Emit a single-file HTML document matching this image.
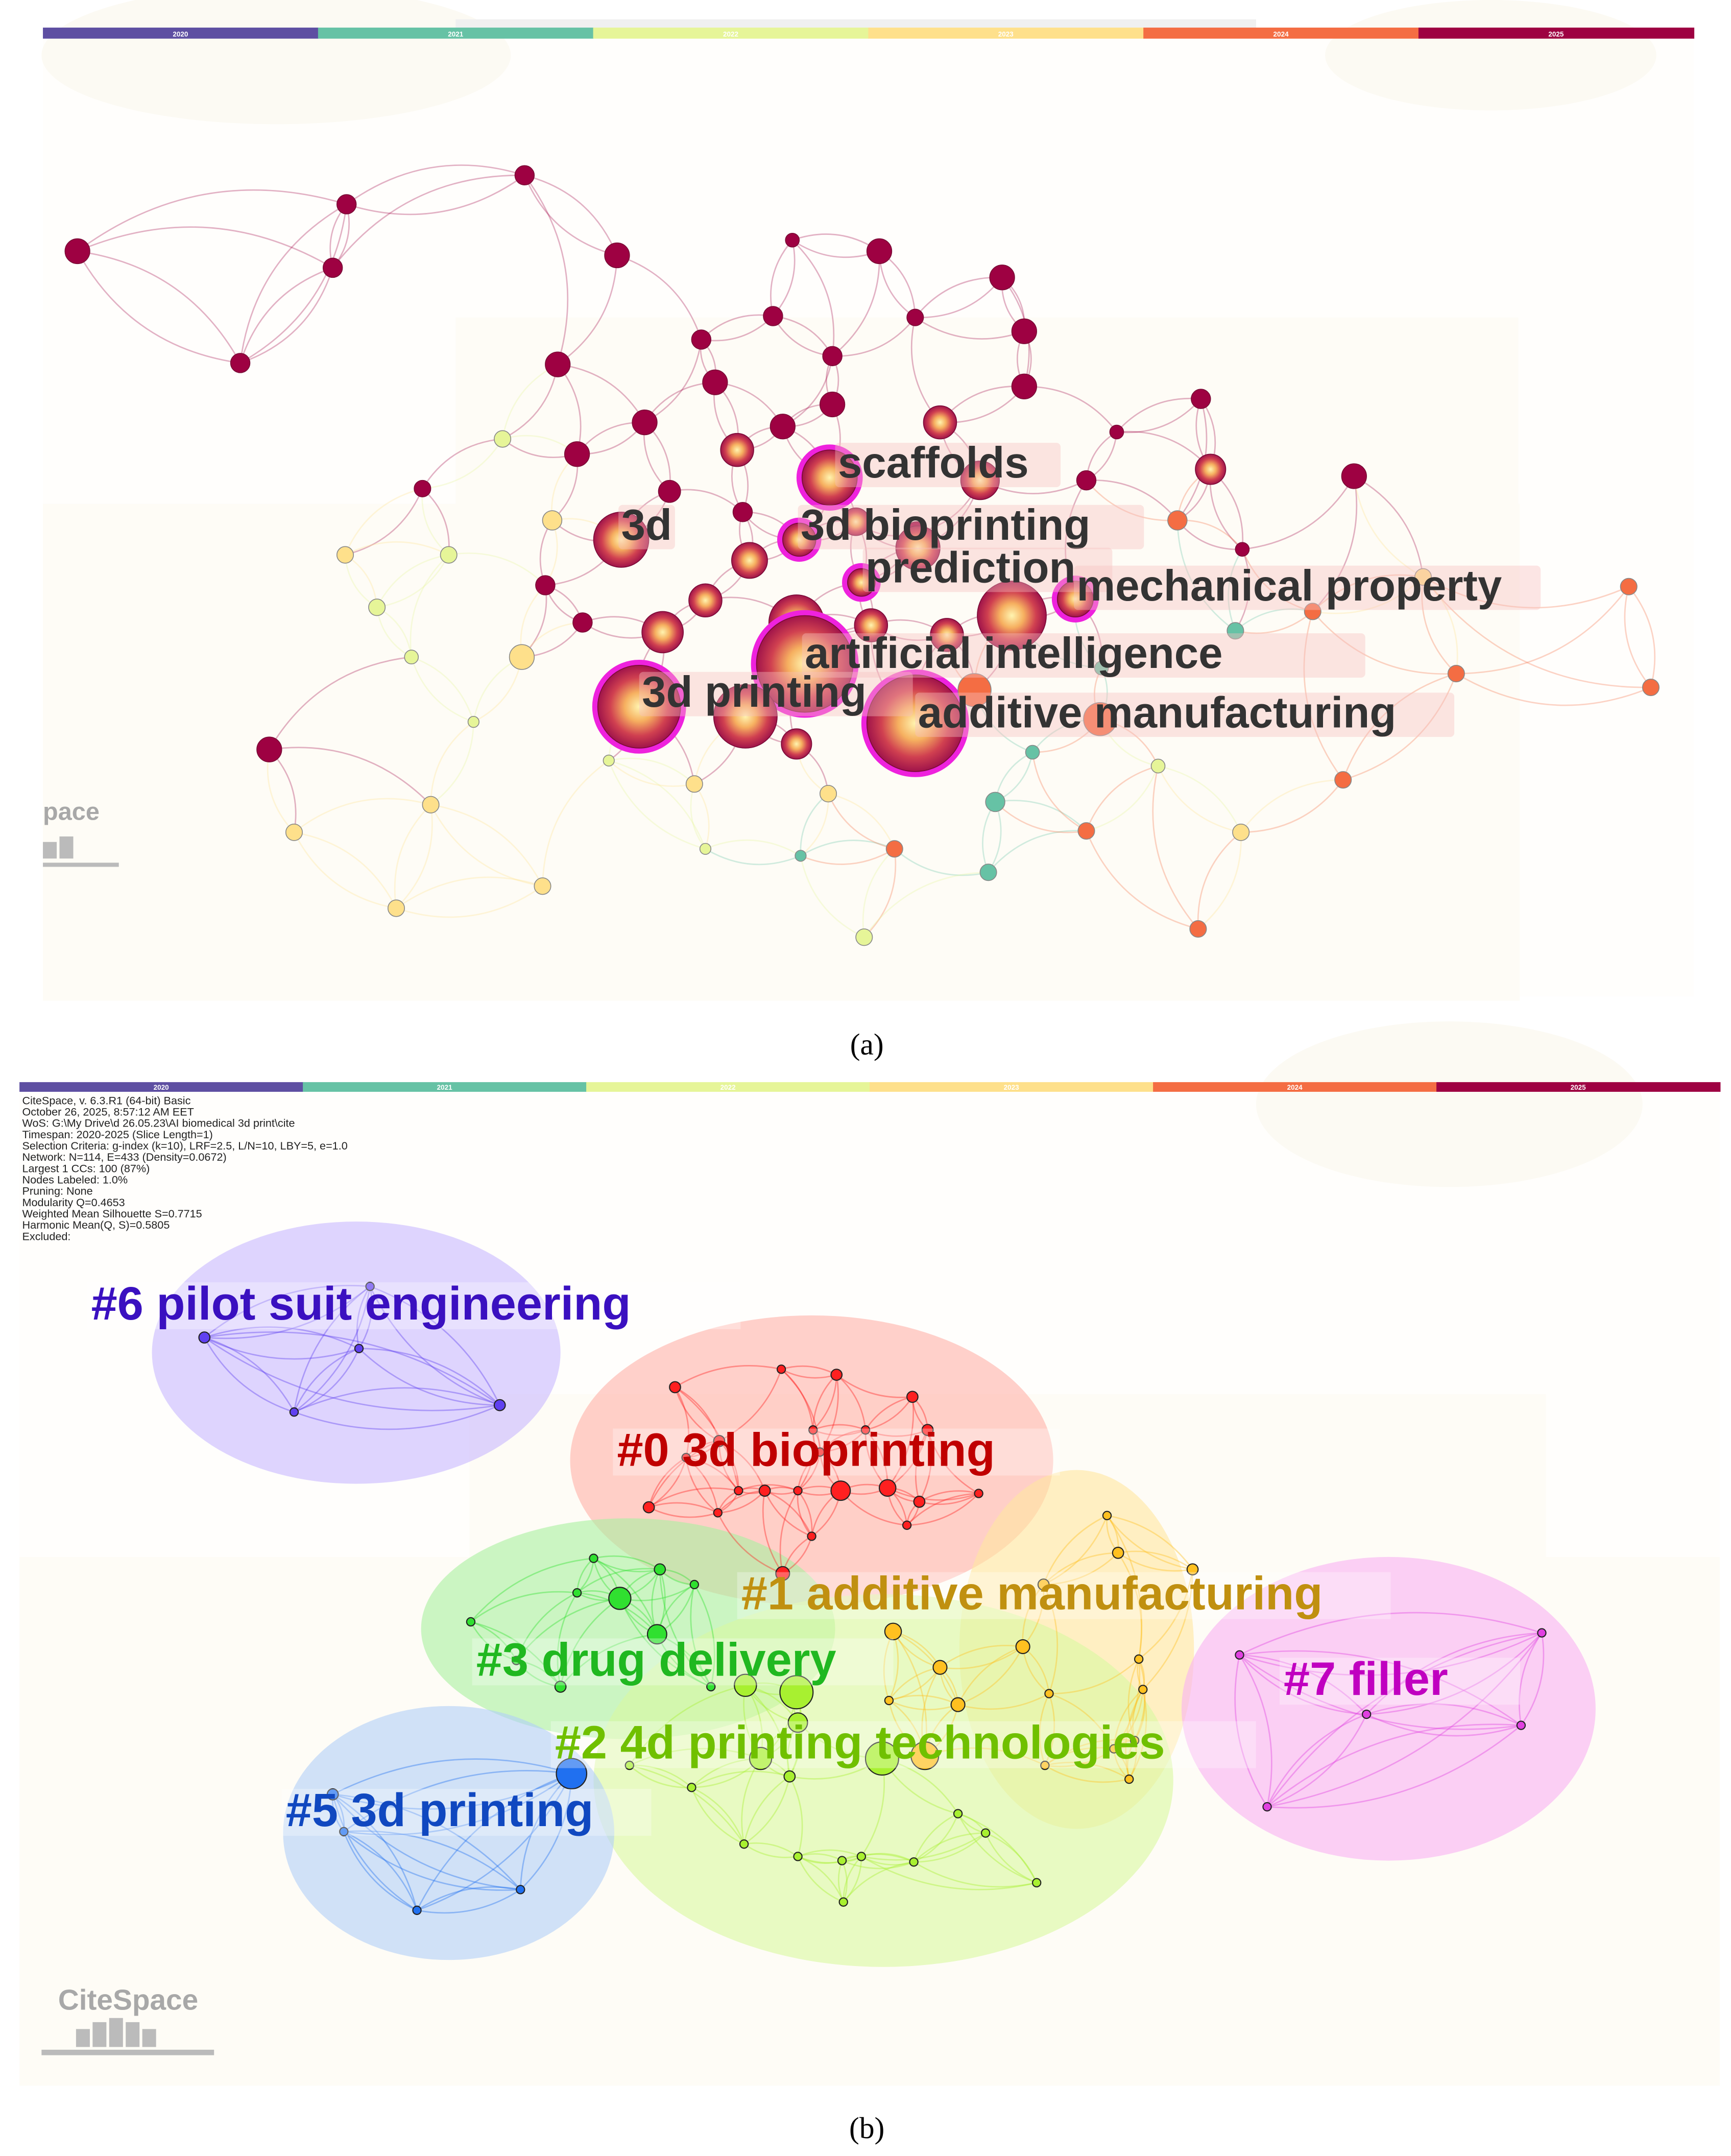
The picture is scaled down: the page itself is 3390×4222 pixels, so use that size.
<!DOCTYPE html>
<html><head><meta charset="utf-8"><style>
html,body{margin:0;padding:0;background:#fff;}
svg{display:block;}
text{font-family:"Liberation Sans",sans-serif;}
</style></head><body>
<svg id="root" width="3390" height="4222" viewBox="0 0 1254 1562" xmlns="http://www.w3.org/2000/svg">
<defs>
<radialGradient id="gcore" cx="50%" cy="50%" r="50%">
<stop offset="0" stop-color="#fff4b0"/><stop offset="0.35" stop-color="#f6b060"/><stop offset="0.7" stop-color="#d04050"/><stop offset="1" stop-color="#a0144a"/>
</radialGradient>
</defs>
<g>
<rect x="31" y="28" width="1196" height="694" fill="#fffefc"/>
<ellipse cx="200" cy="40" rx="170" ry="50" fill="#fcfaf3"/>
<ellipse cx="1080" cy="40" rx="120" ry="40" fill="#fcfaf3"/>
<rect x="330" y="230" width="770" height="490" fill="#fefcf6"/>
<rect x="31" y="365" width="1070" height="360" fill="#fefcf6"/>
<rect x="330" y="14" width="580" height="6" fill="#f0f0f0"/>
</g>
<g id="tba"></g>
<g id="edgesA"></g>
<g id="nodesA"></g>
<g id="labelsA"></g>
<g>
<text x="31" y="594" font-size="18" font-weight="bold" fill="#a8a8a8">pace</text>
<path d="M31 625 L86 625 L86 628 L31 628 Z M31 610 h10 v12 h-10 Z M43 606 h10 v16 h-10 Z" fill="#bbb"/>
</g>
<text x="628" y="764" font-size="22" text-anchor="middle" style="font-family:'Liberation Serif',serif">(a)</text>

<g>
<rect x="14" y="791" width="1232" height="720" fill="#fffefc"/>
<rect x="340" y="1010" width="780" height="500" fill="#fefcf6"/>
<rect x="14" y="1128" width="1232" height="383" fill="#fefcf6"/>
<ellipse cx="1050" cy="800" rx="140" ry="60" fill="#fcfaf3"/>
</g>
<g id="tbb"></g>
<g id="info" font-size="8" fill="#222"></g>
<g id="blobs"></g>
<g id="edgesB"></g>
<g id="nodesB"></g>
<g id="labelsB"></g>
<g>
<text x="42" y="1456" font-size="21" font-weight="bold" fill="#a8a8a8">CiteSpace</text>
<path d="M30 1485 L155 1485 L155 1489 L30 1489 Z M55 1470 h10 v13 h-10 Z M67 1465 h10 v18 h-10 Z M79 1462 h10 v21 h-10 Z M91 1465 h10 v18 h-10 Z M103 1470 h10 v13 h-10 Z" fill="#bbb"/>
</g>
<text x="628" y="1549" font-size="22" text-anchor="middle" style="font-family:'Liberation Serif',serif">(b)</text>
</svg>
<script>
const NS="http://www.w3.org/2000/svg";
const years=["2020","2021","2022","2023","2024","2025"];
const yearColors=["#5e4fa2","#66c2a5","#e6f598","#fee08b","#f46d43","#9e0142"];
function mk(tag,parent,attrs){const e=document.createElementNS(NS,tag);for(const k in attrs)e.setAttribute(k,attrs[k]);parent.appendChild(e);return e;}
function bar(id,x0,x1,y,h){const g=document.getElementById(id);const w=(x1-x0)/6;
years.forEach((yr,i)=>{const r=mk('rect',g,{x:x0+i*w,y:y,width:w+0.5,height:h,fill:yearColors[i]});


const t=mk('text',g,{x:x0+i*w+w/2,y:y+h-1.5,'font-size':5,'text-anchor':'middle',fill:'#fff','font-weight':'bold'});t.textContent=yr;

});}
bar('tba',31,1227,20,8);bar('tbb',14,1246,784,7);

const ax=[56,251,380,241,447,574,637,726,174,404,508,560,603,663,742,518,603,742,681,467,567,534,418,809,870,877,981,306,485,538,601,710,787,450,579,620,664,543,665,395,624,779,733,577,511,631,422,480,686,583,463,540,663,577,195,900,706,
364,400,250,325,273,378,298,343,441,503,600,511,580,648,716,721,748,798,895,839,899,787,868,973,1055,1196,1180,951,853,1031,626,393,312,213,287,797];
const ay=[182,148,127,194,185,174,182,201,263,264,246,229,258,230,240,277,293,280,306,306,309,326,329,313,289,340,345,354,356,371,346,348,348,391,391,378,386,406,397,424,422,434,446,451,435,453,451,458,460,481,512,519,524,539,543,398,500,
318,377,402,402,440,476,476,523,551,568,575,615,620,615,632,581,545,484,457,555,603,602,673,565,488,498,425,443,377,418,679,642,583,603,658,521];
const ar=[9,7,7,7,9,5,9,9,7,9,7,7,7,6,9,9,9,9,12,9,9,12,9,5,7,11,9,6,8,7,20,14,7,20,12,10,8,13,16,7,10,13,25,20,12,12,7,15,12,35,30,23,35,11,9,5,12,
6,7,6,6,6,9,5,4,4,6,6,4,4,6,6,7,5,5,6,5,6,6,6,6,6,6,6,6,7,6,6,6,6,6,6,12];
const ayear=[5,5,5,5,5,5,5,5,5,5,5,5,5,5,5,5,5,5,5,5,5,5,5,5,5,5,5,5,5,5,5,5,5,5,5,5,5,5,5,5,5,5,5,5,5,5,5,5,5,5,5,5,5,5,5,5,4,
2,3,3,2,2,3,2,2,2,3,3,2,1,4,1,1,1,1,1,2,3,4,4,4,4,4,4,4,4,3,2,3,3,3,3,4];
const aring=[0,0,0,0,0,0,0,0,0,0,0,0,0,0,0,0,0,0,0,0,0,0,0,0,0,0,0,0,0,0,1,0,0,0,1,0,0,0,0,0,1,1,0,0,0,0,0,0,0,1,1,0,1,0,0,0,0,
0,0,0,0,0,0,0,0,0,0,0,0,0,0,0,0,0,0,0,0,0,0,0,0,0,0,0,0,0,0,0,0,0,0,0,0];
const eA=document.getElementById('edgesA');
for(let i=0;i<ax.length;i++){
  const d=ax.map((x,j)=>[Math.hypot(x-ax[i],ay[j]-ay[i]),j]).filter(p=>p[1]!==i).sort((a,b)=>a[0]-b[0]).slice(0,3);
  d.forEach(([dist,j])=>{const mx=(ax[i]+ax[j])/2+(ay[j]-ay[i])*0.25,my=(ay[i]+ay[j])/2-(ax[j]-ax[i])*0.25;
  const p=mk('path',eA,{d:`M${ax[i]} ${ay[i]} Q${mx} ${my} ${ax[j]} ${ay[j]}`,fill:'none',stroke:yearColors[ayear[i]],'stroke-opacity':0.3,'stroke-width':1});
  
  });
}
const nA=document.getElementById('nodesA');
for(let i=0;i<ax.length;i++){
  const c=yearColors[ayear[i]];
  if(aring[i]){const r=mk('circle',nA,{cx:ax[i],cy:ay[i],r:ar[i]+2,fill:'none',stroke:'#ee22dd','stroke-width':4});
    
    }
  const n=mk('circle',nA,{cx:ax[i],cy:ay[i],r:ar[i],fill:ayear[i]===5&&ar[i]>=10?'url(#gcore)':c,stroke:ayear[i]===5?'#7a0a36':'#888','stroke-width':0.6});
  
  
}
const labA=[["scaffolds",607,346],["3d",450,391],["3d bioprinting",580,391],["prediction",627,422],["mechanical property",780,435],["artificial intelligence",583,484],["3d printing",465,512],["additive manufacturing",665,527]];
const lA=document.getElementById('labelsA');
const sA=31.5;
labA.forEach(([t,x,y])=>{const w=t.length*sA*0.555;
 const b=mk('rect',lA,{x:x-2,y:y-sA*0.8,width:w+6,height:sA*1.02,fill:'#f8c0c0','fill-opacity':0.4,rx:3});
 
 
 const e=mk('text',lA,{x:x,y:y,'font-size':sA,'font-weight':'bold',fill:'#333'});e.textContent=t;
 
 });

const info=["CiteSpace, v. 6.3.R1 (64-bit) Basic","October 26, 2025, 8:57:12 AM EET","WoS: G:\\My Drive\\d 26.05.23\\AI biomedical 3d print\\cite","Timespan: 2020-2025 (Slice Length=1)","Selection Criteria: g-index (k=10), LRF=2.5, L/N=10, LBY=5, e=1.0","Network: N=114, E=433 (Density=0.0672)","Largest 1 CCs: 100 (87%)","Nodes Labeled: 1.0%","Pruning: None","Modularity Q=0.4653","Weighted Mean Silhouette S=0.7715","Harmonic Mean(Q, S)=0.5805","Excluded:"];
const ig=document.getElementById('info');
info.forEach((t,i)=>{const e=mk('text',ig,{x:16,y:800+i*8.2});e.textContent=t;

});

const blobs=[["cluster-6",258,980,148,95,"#c8b8ff"],["cluster-0",588,1058,175,105,"#ffb0a8"],["cluster-1",780,1195,85,130,"#ffe6a0"],["cluster-3",455,1180,150,80,"#a8f0a0"],["cluster-2",640,1290,210,135,"#d8f8a0"],["cluster-7",1006,1238,150,110,"#f8b0f4"],["cluster-5",325,1328,120,92,"#b0cef8"]];
const bg=document.getElementById('blobs');
blobs.forEach(([n,cx,cy,rx,ry,c])=>{const e=mk('ellipse',bg,{cx,cy,rx,ry,fill:c,'fill-opacity':0.6});

});
const bx=[148,260,213,362,268,489,566,606,661,521,589,627,672,594,497,535,554,578,609,643,666,709,470,520,588,657,567,430,478,418,449,406,476,503,374,341,515,802,810,864,756,647,741,681,694,644,760,825,828,822,670,757,807,818,540,577,578,551,639,572,456,501,539,578,624,694,714,751,611,610,662,898,990,1102,1117,918,414,241,249,302,377];
const by=[969,977,1023,1018,932,1005,992,996,1012,1044,1036,1036,1036,1052,1056,1080,1080,1080,1080,1078,1088,1082,1092,1096,1113,1105,1140,1129,1137,1154,1158,1222,1184,1148,1203,1175,1222,1098,1125,1137,1148,1182,1193,1208,1235,1232,1227,1202,1224,1261,1272,1279,1267,1289,1221,1226,1248,1274,1274,1287,1279,1295,1336,1345,1345,1314,1328,1364,1378,1348,1349,1199,1242,1250,1183,1309,1285,1300,1327,1384,1369];
const br=[4,3,3,4,3,4,3,4,4,4,3,3,4,3,3,3,4,3,7,6,4,3,4,3,3,3,5,3,4,3,8,4,7,3,3,3,3,3,4,4,4,6,5,5,5,3,3,3,3,3,10,3,3,3,8,12,7,8,12,4,3,3,3,3,3,3,3,3,3,3,3,3,3,3,3,3,11,4,3,3,3];
const bc=[6,6,6,6,6,0,0,0,0,0,0,0,0,0,0,0,0,0,0,0,0,0,0,0,0,0,0,3,3,3,3,3,3,3,3,3,3,1,1,1,1,1,1,1,1,1,1,1,1,1,1,1,1,1,2,2,2,2,2,2,2,2,2,2,2,2,2,2,2,2,2,7,7,7,7,7,5,5,5,5,5];
const cCol={0:"#ff2020",1:"#ffc020",2:"#a8f030",3:"#30e030",5:"#2070f0",6:"#6040f0",7:"#e040e0"};
const eB=document.getElementById('edgesB');
for(let i=0;i<bx.length;i++){
  const same=bx.map((x,j)=>[Math.hypot(x-bx[i],by[j]-by[i]),j]).filter(p=>p[1]!==i&&bc[p[1]]===bc[i]).sort((a,b)=>a[0]-b[0]).slice(0,4);
  same.forEach(([d,j])=>{const mx=(bx[i]+bx[j])/2+(by[j]-by[i])*0.2,my=(by[i]+by[j])/2-(bx[j]-bx[i])*0.2;
  const p=mk('path',eB,{d:`M${bx[i]} ${by[i]} Q${mx} ${my} ${bx[j]} ${by[j]}`,fill:'none',stroke:cCol[bc[i]],'stroke-opacity':0.4,'stroke-width':1});
  
  });
}
const nB=document.getElementById('nodesB');
for(let i=0;i<bx.length;i++){const n=mk('circle',nB,{cx:bx[i],cy:by[i],r:br[i],fill:cCol[bc[i]],stroke:'#222','stroke-width':0.8});

}
const labB=[["#6 pilot suit engineering",66,956,"#3a10c0"],["#0 3d bioprinting",447,1062,"#c00000"],["#1 additive manufacturing",537,1166,"#c09010"],["#3 drug delivery",345,1214,"#20b820"],["#7 filler",930,1228,"#c000c0"],["#2 4d printing technologies",402,1274,"#70c000"],["#5 3d printing",207,1323,"#1048c0"]];
const lB=document.getElementById('labelsB');
const sB=34;
labB.forEach(([t,x,y,c])=>{const w=t.length*sB*0.55;
 const b=mk('rect',lB,{x:x-3,y:y-27,width:w+6,height:34,fill:'#ffffff','fill-opacity':0.3});
 
 
 const e=mk('text',lB,{x:x,y:y,'font-size':sB,'font-weight':'bold',fill:c});e.textContent=t;
 
 });
</script>
</body></html>
